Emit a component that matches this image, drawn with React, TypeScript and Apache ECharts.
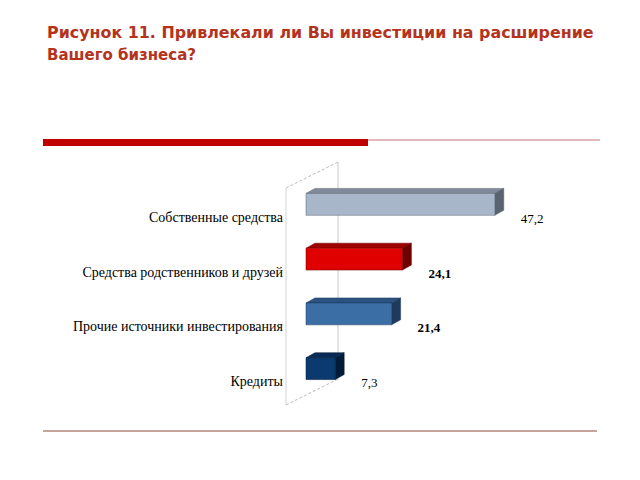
import React, { useEffect, useRef } from "react";
import * as echarts from "echarts";

const titleLine1 = "Рисунок 11. Привлекали ли Вы инвестиции на расширение";
const titleLine2 = "Вашего бизнеса?";
const categories = [
  "Собственные средства",
  "Средства родственников и друзей",
  "Прочие источники инвестирования",
  "Кредиты",
];
const values = [47.2, 24.1, 21.4, 7.3];
const valueLabels = ["47,2", "24,1", "21,4", "7,3"];
const boldLabel = [false, true, true, false];
const frontColors = ["#a7b6c9", "#e00000", "#3c6ea6", "#0b3a70"];
const topColors = ["#7f8b9a", "#a00000", "#2c5282", "#082b55"];
const sideColors = ["#5a6470", "#6e0000", "#1e3a5c", "#041b38"];

export default function App() {
  const ref = useRef<HTMLDivElement>(null);
  useEffect(() => {
    if (!ref.current) return;
    const chart = echarts.init(ref.current, undefined, { renderer: "svg" });
    const dx = 9;
    const dy = -5;
    const option: any = {
      animation: false,
      backgroundColor: "#ffffff",
      grid: { left: 306, width: 280, top: 177, height: 219 },
      xAxis: {
        type: "value",
        min: 0,
        max: 70,
        show: false,
      },
      yAxis: {
        type: "category",
        inverse: true,
        data: categories,
        axisLine: { show: false },
        axisTick: { show: false },
        splitLine: { show: false },
        axisLabel: {
          margin: 23,
          color: "#000000",
          fontFamily: "'Liberation Serif', serif",
          fontSize: 14,
          verticalAlign: "top",
          lineHeight: 26,
        },
      },
      graphic: [
        {
          type: "text",
          x: 47,
          y: 33,
          scaleX: 1.06,
          style: {
            text: titleLine1,
            fill: "#b5321c",
            font: "bold 15px 'DejaVu Sans'",
            textVerticalAlign: "middle",
          },
        },
        {
          type: "text",
          x: 47,
          y: 55,
          style: {
            text: titleLine2,
            fill: "#b5321c",
            font: "bold 15px 'DejaVu Sans'",
            textVerticalAlign: "middle",
          },
        },
        {
          type: "line",
          shape: { x1: 368, y1: 140, x2: 600, y2: 140 },
          style: { stroke: "#d9a3a3", lineWidth: 1.5 },
        },
        {
          type: "rect",
          shape: { x: 43, y: 139, width: 325, height: 7 },
          style: { fill: "#c00000" },
        },
        {
          type: "line",
          shape: { x1: 43, y1: 431, x2: 597, y2: 431 },
          style: { stroke: "#c9a39e", lineWidth: 2 },
        },
        {
          type: "line",
          shape: { x1: 286, y1: 188, x2: 286, y2: 405 },
          style: { stroke: "#d4d4d4", lineWidth: 1 },
        },
        {
          type: "line",
          shape: { x1: 338, y1: 162, x2: 338, y2: 380 },
          style: { stroke: "#c8c8c8", lineWidth: 1 },
        },
        {
          type: "line",
          shape: { x1: 286, y1: 188, x2: 338, y2: 162 },
          style: { stroke: "#bdbdbd", lineWidth: 1, lineDash: [3, 2] },
        },
        {
          type: "line",
          shape: { x1: 286, y1: 405, x2: 338, y2: 379 },
          style: { stroke: "#bdbdbd", lineWidth: 1, lineDash: [3, 2] },
        },
      ],
      series: [
        {
          type: "custom",
          encode: { x: 0, y: 1 },
          data: values.map((v, i) => [v, i]),
          renderItem: (params: any, api: any) => {
            const v = api.value(0);
            const idx = api.value(1);
            const start = api.coord([0, idx]);
            const end = api.coord([v, idx]);
            const bh = api.size([0, 1])[1] * 0.4;
            const x0 = start[0];
            const x1 = end[0];
            const yc = start[1];
            const top = yc - bh / 2;
            const bot = yc + bh / 2;
            const i = params.dataIndex;
            return {
              type: "group",
              children: [
                {
                  type: "polygon",
                  shape: {
                    points: [
                      [x0, top],
                      [x0 + dx, top + dy],
                      [x1 + dx, top + dy],
                      [x1, top],
                    ],
                  },
                  style: { fill: topColors[i], stroke: sideColors[i], lineWidth: 0.5 },
                },
                {
                  type: "polygon",
                  shape: {
                    points: [
                      [x1, top],
                      [x1 + dx, top + dy],
                      [x1 + dx, bot + dy],
                      [x1, bot],
                    ],
                  },
                  style: { fill: sideColors[i], stroke: sideColors[i], lineWidth: 0.5 },
                },
                {
                  type: "rect",
                  shape: { x: x0, y: top, width: x1 - x0, height: bh },
                  style: { fill: frontColors[i], stroke: sideColors[i], lineWidth: 0.5 },
                },
                {
                  type: "text",
                  x: x1 + dx + 17,
                  y: yc + 14,
                  style: {
                    text: valueLabels[i],
                    fill: "#000000",
                    font: (boldLabel[i] ? "bold " : "") + "13px 'Liberation Serif'",
                    textAlign: "left",
                    textVerticalAlign: "middle",
                  },
                },
              ],
            };
          },
        },
      ],
    };
    chart.setOption(option);
    return () => chart.dispose();
  }, []);
  return (
    <div
      ref={ref}
      style={{ position: "fixed", left: 0, top: 0, width: 640, height: 480 }}
    />
  );
}
